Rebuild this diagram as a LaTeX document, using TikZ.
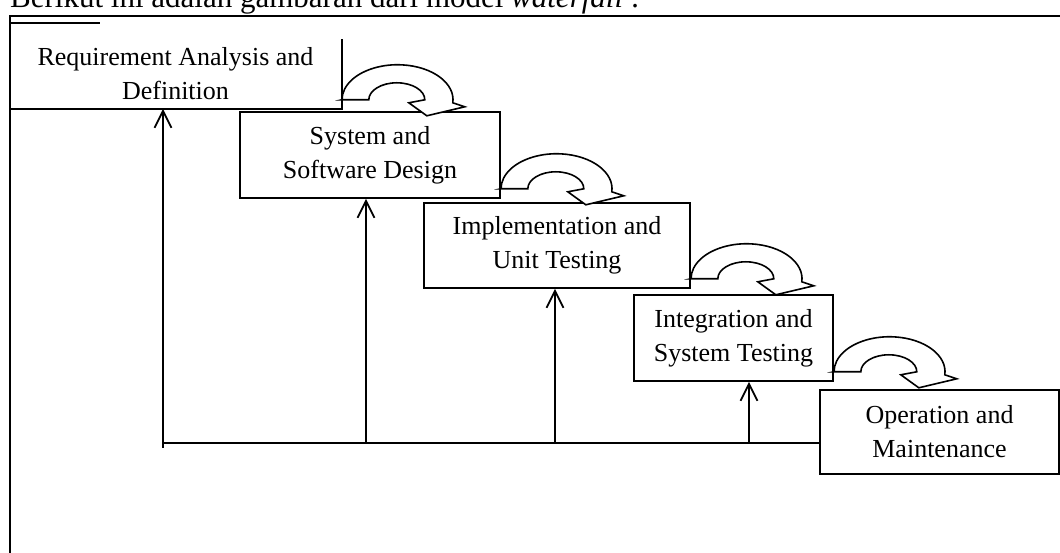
\documentclass[tikz,border=0pt]{standalone}
\usepackage{fontspec}
\setmainfont{Liberation Serif}
\usetikzlibrary{arrows.meta,calc}
\newcommand\phasefont{\fontsize{26}{34}\selectfont}
\tikzset{
  phase/.style={draw, line width=1.6pt, align=center, font=\phasefont, inner sep=0pt},
  frameline/.style={line width=1.6pt},
  baseline/.style={line width=2.6pt},
  feed/.style={line width=2.6pt, -{Straight Barb[length=17pt,width=17pt,line width=1.8pt]}},
  pics/uturn/.style={code={
    \draw[line width=1.6pt, fill=white, line join=miter]
      (0,0) -- (27,0) arc[start angle=180, end angle=0, x radius=28, y radius=17]
      -- (67,-3) -- (85,-16) -- (123,-7) -- (111,-3)
      arc[start angle=-5, end angle=180, x radius=55.5, y radius=35] -- cycle;
  }},
}

\begin{document}
\begin{tikzpicture}[x=1pt, y=1pt]
\useasboundingbox (0,0) rectangle (1060,553);

% ---- page text and frame ----
\node[anchor=base west, inner sep=0pt, font=\fontsize{31}{31}\selectfont] (intro) at (10,545)
  {Berikut ini adalah gambaran dari model \textit{waterfall} :};
\draw[frameline] (10,0) -- (10,537);
\draw[line width=2.2pt] (9,537) -- (1060,537);
\draw[frameline] (10,530) -- (100,530);

% ---- phases ----
\node[phase, draw=none, minimum width=331pt, minimum height=68pt] (req) at (175.5,479)
  {Requirement Analysis and\\Definition};
\draw[frameline] (req.north east) -- (req.south east) -- (req.south west);
\node[phase, minimum width=260pt, minimum height=86pt] (sys) at (370,398)
  {System and\\Software Design};
\node[phase, minimum width=266pt, minimum height=85pt] (impl) at (557,307.5)
  {Implementation and\\Unit Testing};
\node[phase, minimum width=199pt, minimum height=86pt] (integ) at (733.5,215)
  {Integration and\\System Testing};
\node[phase, minimum width=239pt, minimum height=84pt] (oper) at (939.5,121)
  {Operation and\\Maintenance};

% ---- flow down ----
\pic at ($(req.south east)+(0,9)$) {uturn};
\pic at ($(sys.south east)+(0,10)$) {uturn};
\pic at ($(impl.south east)+(0,10)$) {uturn};
\pic at ($(integ.south east)+(0,10)$) {uturn};

% ---- feedback ----
\coordinate (tick) at (163,105);
\coordinate (b1) at (163,110);
\coordinate (b2) at (366,110);
\coordinate (b3) at (555,110);
\coordinate (b4) at (749,110);
\draw[baseline] (b1) -- (oper.west |- b1);
\draw[feed] (tick) -- (req.south -| b1);
\draw[feed] (b2) -- (sys.south -| b2);
\draw[feed] (b3) -- (impl.south -| b3);
\draw[feed] (b4) -- (integ.south -| b4);

\end{tikzpicture}
\end{document}
